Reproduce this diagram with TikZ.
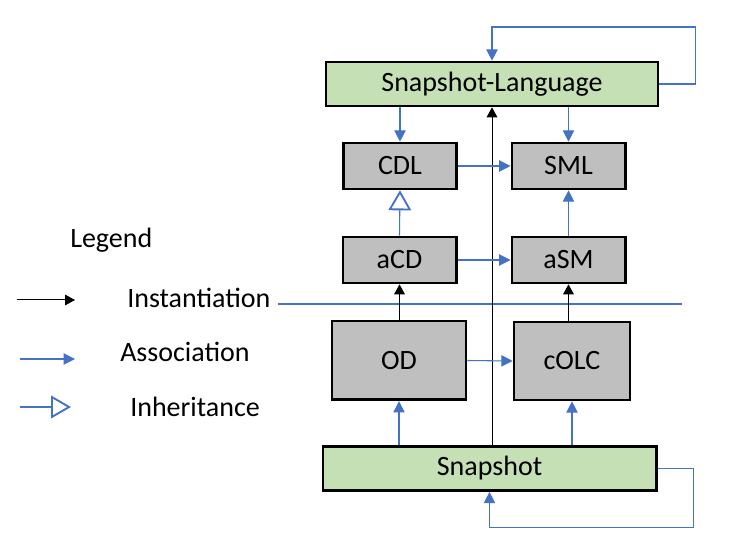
\documentclass[tikz,border=0pt]{standalone}
\usepackage{fontspec}
\setmainfont{Carlito}
\usetikzlibrary{arrows.meta}
\definecolor{boxgreen}{HTML}{C5E0B4}
\definecolor{boxgray}{HTML}{BFBFBF}
\definecolor{assocblue}{HTML}{4472C4}

\begin{document}
\begin{tikzpicture}[x=0.75pt, y=-0.75pt,
    every node/.style={font=\fontsize{21}{24}\selectfont},
    langbox/.style={draw, line width=2pt, fill=boxgreen, minimum height=33pt},
    modelbox/.style={draw, line width=2pt, fill=boxgray, minimum width=85pt, minimum height=34.5pt},
    legendlbl/.style={anchor=base west, inner sep=0pt},
    inst/.style={-{Triangle[length=7.5pt, width=8pt]}, line width=0.75pt},
    assoc/.style={-{Triangle[length=8.5pt, width=8.5pt]}, assocblue, line width=0.8pt},
    inherit/.style={-{Triangle[open, length=15pt, width=17pt, line width=1.4pt]}, assocblue, line width=0.8pt}]
            \useasboundingbox (0,0) rectangle (739,548);

            %nodes
            \node[langbox, minimum width=249pt] (lang) at (492,84) {Snapshot-Language};
            \node[modelbox] (cdl) at (400,166) {CDL};
            \node[modelbox] (sml) at (568.5,166) {SML};
            \node[modelbox] (acd) at (399.5,260) {aCD};
            \node[modelbox] (asm) at (568.5,260) {aSM};
            \node[modelbox, minimum width=100.5pt, minimum height=59pt] (od) at (399,360.5) {OD};
            \node[modelbox, minimum width=87pt, minimum height=58.5pt] (colc) at (572,361) {cOLC};
            \node[langbox, minimum width=250pt] (snap) at (489.5,468.5) {Snapshot};

            %legend
            \node[legendlbl] (legend) at (70,248) {Legend};
            \node[legendlbl] (instlbl) at (127,308) {Instantiation};
            \node[legendlbl] (assoclbl) at (120,362) {Association};
            \node[legendlbl] (inheritlbl) at (130,417) {Inheritance};
            \coordinate (instA) at (17,300);
            \coordinate (instB) at (75,300);
            \coordinate (assocA) at (20,359);
            \coordinate (assocB) at (75,359);
            \coordinate (inheritA) at (20,407);
            \coordinate (inheritB) at (71,407);
            \coordinate (sepL) at (278,304);
            \coordinate (sepR) at (682,304);

            %edges
            \draw[assocblue, line width=0.8pt] (sepL) -- (sepR);
            \draw[inst] (lang.south |- snap.north) -- (lang.south);
            \draw[inst] (acd.south |- od.north) -- (acd.south);
            \draw[inst] (asm.south |- colc.north) -- (asm.south);
            \draw[assoc] (cdl.north |- lang.south) -- (cdl.north);
            \draw[assoc] (sml.north |- lang.south) -- (sml.north);
            \draw[assoc] (cdl.east) -- (sml.west);
            \draw[assoc] (asm.north) -- (sml.south);
            \draw[assoc] (acd.east) -- (asm.west);
            \draw[assoc] (od.east) -- (colc.west);
            \draw[assoc] (od.south |- snap.north) -- (od.south);
            \draw[assoc] (colc.south |- snap.north) -- (colc.south);
            \draw[inherit] (acd.north) -- (cdl.south);
            \draw[assoc] (lang.east) -- ++(36,0) -- ++(0,-57) -| (lang.north);
            \draw[assoc] (snap.east) -- ++(36,0) -- ++(0,59) -| (snap.south);

            %legend edges
            \draw[inst] (instA) -- (instB);
            \draw[assoc] (assocA) -- (assocB);
            \draw[inherit] (inheritA) -- (inheritB);
        \end{tikzpicture}
\end{document}
